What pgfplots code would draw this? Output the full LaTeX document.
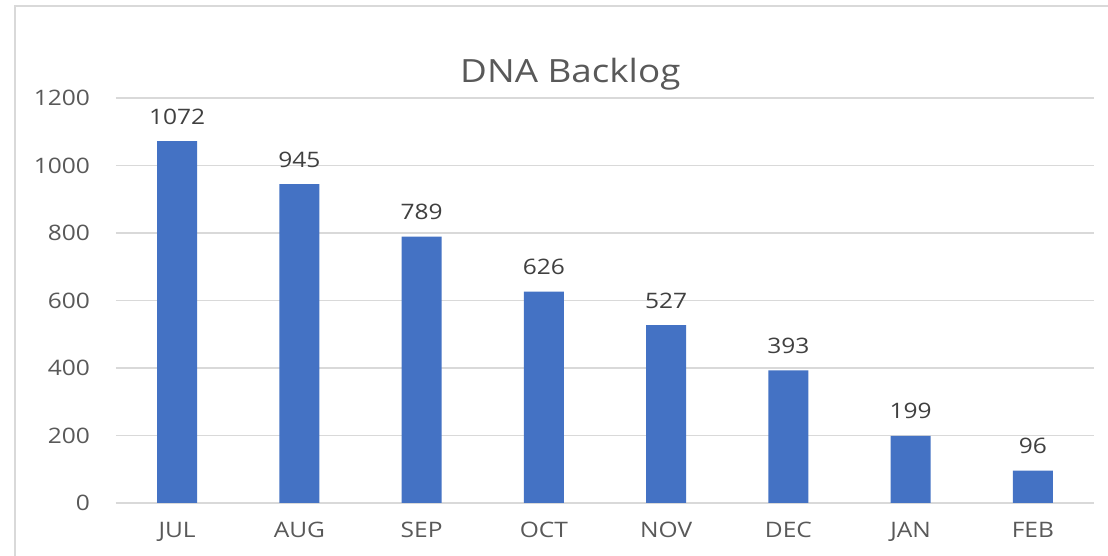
\documentclass[border=0pt]{standalone}
\usepackage{pgfplots}
\pgfplotsset{compat=1.18}
\usepackage{fontspec}
\setmainfont{Open Sans}[FakeStretch=1.15]
\definecolor{barblue}{HTML}{4472C4}
\definecolor{txt}{HTML}{595959}
\definecolor{gridc}{HTML}{D9D9D9}
\begin{document}
\begin{tikzpicture}[x=0.75pt,y=0.75pt]
\path[use as bounding box] (0,0) rectangle (1108,556);
\fill[white] (0,0) rectangle (1108,556);
\draw[gridc,line width=1.5pt] (15,0) -- (15,550) -- (1108,550);
\begin{axis}[
  at={(116*0.75pt,53*0.75pt)}, anchor=south west,
  scale only axis, width=978*0.75pt, height=405*0.75pt,
  ymin=0, ymax=1200, xmin=-0.5, xmax=7.5,
  ytick={0,200,...,1200},
  xtick={0,...,7},
  xticklabels={JUL,AUG,SEP,OCT,NOV,DEC,JAN,FEB},
  ymajorgrids, xmajorgrids=false,
  y grid style={draw=gridc,line width=0.9pt},
  axis x line*=bottom, axis y line*=left,
  x axis line style={draw=gridc,line width=0.9pt},
  y axis line style={draw=none},
  major tick length=0pt,
  tick label style={font=\fontsize{16}{19}\selectfont, text=txt},
  /pgf/number format/assume math mode=true,
  /pgf/number format/1000 sep={},
  yticklabel style={anchor=east, xshift=-16pt},
  xticklabel style={yshift=-11pt},
  title={DNA Backlog},
  title style={font=\fontsize{24}{28}\selectfont, text=txt, xshift=-26pt, yshift=-4pt},
  nodes near coords,
  every node near coord/.append style={font=\fontsize{16}{19}\selectfont, text=black!75, yshift=9pt},
  clip=false,
]
\addplot[ybar, bar width=40*0.75pt, fill=barblue, draw=none] coordinates {
(0,1072) (1,945) (2,789) (3,626) (4,527) (5,393) (6,199) (7,96)};
\end{axis}
\end{tikzpicture}
\end{document}
